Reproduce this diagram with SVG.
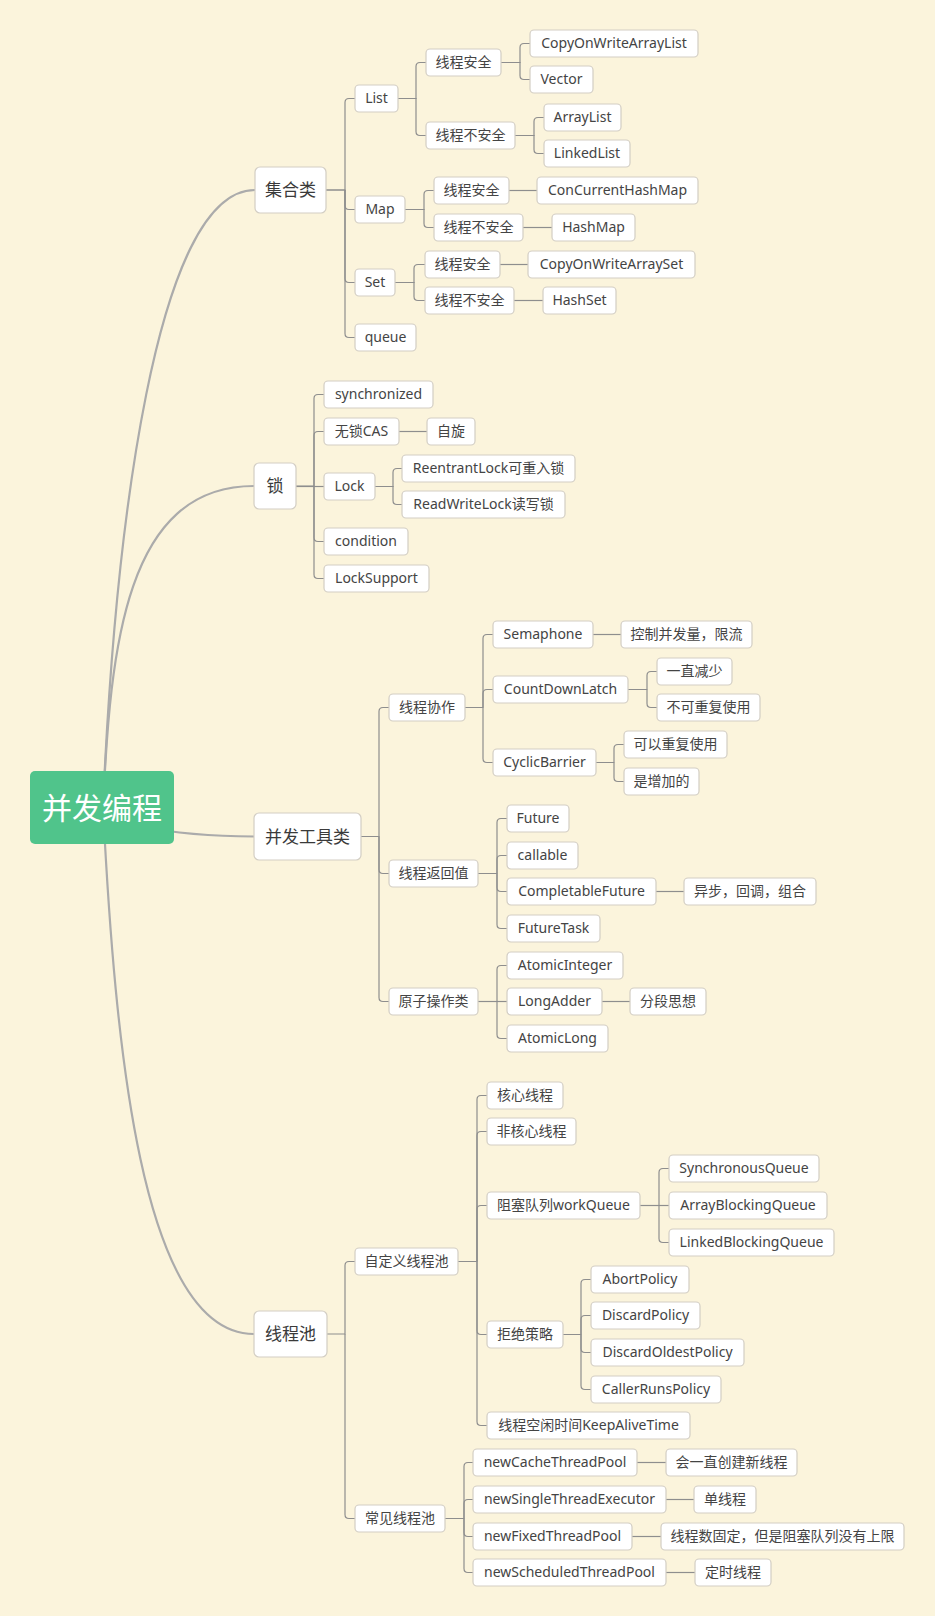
<svg xmlns="http://www.w3.org/2000/svg" width="935" height="1616" viewBox="0 0 935 1616">
<style>
.bg{fill:#fbf4dc}
.n rect{fill:#ffffff;stroke:#d3cec4;stroke-width:1.2}
.n text{font-family:"Noto Sans","Noto Sans CJK SC",sans-serif;font-size:14px;fill:#444444;text-anchor:middle;transform:translate(0px,-1px)}
.l1 text{font-size:17px;fill:#3a3a3a;transform:none}
.root rect{fill:#50c48b;stroke:none}
.root text{font-family:"Noto Sans CJK SC",sans-serif;font-size:30px;fill:#ffffff;text-anchor:middle}
.c path{fill:none;stroke:#8e8e8e;stroke-width:1.2}
.c path.m{stroke:#ababab;stroke-width:2.2}
</style>
<rect class="bg" x="0" y="0" width="935" height="1616"/>
<g id="connectors" class="c">
<path class="m" d="M103 807C115 530 155.5 190 255 190"/>
<path class="m" d="M103 807C110.5 646.5 125.5 486 254 486"/>
<path class="m" d="M140 826Q190 836.5 254 836.5"/>
<path class="m" d="M103 807C115 1043 140.5 1334 254 1334"/>
<path d="M326 190H345V102.5Q345 98.5 349 98.5H355"/>
<path d="M326 190H345V205.5Q345 209.5 349 209.5H355"/>
<path d="M345 190V278.5Q345 282.5 349 282.5H355"/>
<path d="M345 190V333.5Q345 337.5 349 337.5H355"/>
<path d="M398 98.5H416V66.5Q416 62.5 420 62.5H426"/>
<path d="M398 98.5H416V131.5Q416 135.5 420 135.5H426"/>
<path d="M501 62.5H520V47.5Q520 43.5 524 43.5H530"/>
<path d="M501 62.5H520V75.5Q520 79.5 524 79.5H530"/>
<path d="M515 135.5H534V121.5Q534 117.5 538 117.5H544"/>
<path d="M515 135.5H534V149.5Q534 153.5 538 153.5H544"/>
<path d="M405 209.5H424V194.5Q424 190.5 428 190.5H434"/>
<path d="M405 209.5H424V223.5Q424 227.5 428 227.5H434"/>
<path d="M509 190.5H537"/>
<path d="M523 227.5H552"/>
<path d="M395 282.5H414V268.5Q414 264.5 418 264.5H425"/>
<path d="M395 282.5H414V296.5Q414 300.5 418 300.5H425"/>
<path d="M500 264.5H528"/>
<path d="M514 300.5H543"/>
<path d="M296 486H314V398.5Q314 394.5 318 394.5H324"/>
<path d="M314 486V435.5Q314 431.5 318 431.5H324"/>
<path d="M296 486.5H324"/>
<path d="M314 486V537.5Q314 541.5 318 541.5H324"/>
<path d="M314 486V574.5Q314 578.5 318 578.5H324"/>
<path d="M399 431.5H427"/>
<path d="M375 486.5H393V472.5Q393 468.5 397 468.5H402"/>
<path d="M375 486.5H393V500.5Q393 504.5 397 504.5H402"/>
<path d="M361 836.5H379V711.5Q379 707.5 383 707.5H389"/>
<path d="M379 836.5V869.5Q379 873.5 383 873.5H389"/>
<path d="M379 836.5V997.5Q379 1001.5 383 1001.5H389"/>
<path d="M465 707.5H483V638.5Q483 634.5 487 634.5H493"/>
<path d="M483 707.5V693.5Q483 689.5 487 689.5H493"/>
<path d="M483 707.5V758.5Q483 762.5 487 762.5H493"/>
<path d="M593 634.5H621"/>
<path d="M628 689.5H647V675.5Q647 671.5 651 671.5H657"/>
<path d="M647 689.5V703.5Q647 707.5 651 707.5H657"/>
<path d="M596 762.5H614V748.5Q614 744.5 618 744.5H624"/>
<path d="M614 762.5V777.5Q614 781.5 618 781.5H624"/>
<path d="M478 873.5H497V822.5Q497 818.5 501 818.5H507"/>
<path d="M497 873.5V859.5Q497 855.5 501 855.5H507"/>
<path d="M497 873.5V887.5Q497 891.5 501 891.5H507"/>
<path d="M497 873.5V924.5Q497 928.5 501 928.5H507"/>
<path d="M656 891.5H684"/>
<path d="M478 1001.5H497V969.5Q497 965.5 501 965.5H507"/>
<path d="M478 1001.5H507"/>
<path d="M497 1001.5V1034.5Q497 1038.5 501 1038.5H507"/>
<path d="M602 1001.5H630"/>
<path d="M327 1334H345V1265.5Q345 1261.5 349 1261.5H355"/>
<path d="M345 1334V1514.5Q345 1518.5 349 1518.5H355"/>
<path d="M458 1261.5H477V1099.5Q477 1095.5 481 1095.5H487"/>
<path d="M477 1261.5V1135.5Q477 1131.5 481 1131.5H487"/>
<path d="M477 1261.5V1209.5Q477 1205.5 481 1205.5H487"/>
<path d="M477 1261.5V1330.5Q477 1334.5 481 1334.5H487"/>
<path d="M477 1261.5V1421.5Q477 1425.5 481 1425.5H487"/>
<path d="M640 1205.5H659V1172.5Q659 1168.5 663 1168.5H669"/>
<path d="M640 1205.5H669"/>
<path d="M659 1205.5V1238.5Q659 1242.5 663 1242.5H669"/>
<path d="M563 1334.5H581V1283.5Q581 1279.5 585 1279.5H591"/>
<path d="M581 1334.5V1319.5Q581 1315.5 585 1315.5H591"/>
<path d="M581 1334.5V1348.5Q581 1352.5 585 1352.5H591"/>
<path d="M581 1334.5V1385.5Q581 1389.5 585 1389.5H591"/>
<path d="M445 1518.5H464V1466.5Q464 1462.5 468 1462.5H473"/>
<path d="M464 1518.5V1503.5Q464 1499.5 468 1499.5H473"/>
<path d="M464 1518.5V1532.5Q464 1536.5 468 1536.5H473"/>
<path d="M464 1518.5V1568.5Q464 1572.5 468 1572.5H473"/>
<path d="M637 1462.5H666"/>
<path d="M666 1499.5H694"/>
<path d="M632 1536.5H661"/>
<path d="M666 1572.5H695"/>
</g>
<g id="root" class="root"><rect x="30" y="771" width="144" height="73" rx="5"/><text x="102" y="818.5">并发编程</text></g>
<g id="n-collections" class="n l1"><rect x="255" y="167" width="71" height="46" rx="5"/><text x="290.5" y="196">集合类</text></g>
<g id="n-lock" class="n l1"><rect x="254" y="463" width="42" height="46" rx="5"/><text x="275" y="492">锁</text></g>
<g id="n-tools" class="n l1"><rect x="254" y="813" width="107" height="47" rx="5"/><text x="307.5" y="842.5">并发工具类</text></g>
<g id="n-pool" class="n l1"><rect x="254" y="1311" width="73" height="46" rx="5"/><text x="290.5" y="1340">线程池</text></g>
<g id="n-list" class="n"><rect x="355" y="85" width="43" height="27" rx="4"/><text x="376.5" y="103.5">List</text></g>
<g id="n-list-safe" class="n"><rect x="426" y="49" width="75" height="27" rx="4"/><text x="463.5" y="67.5">线程安全</text></g>
<g id="n-cowal" class="n"><rect x="530" y="30" width="168" height="27" rx="4"/><text x="614" y="48.5">CopyOnWriteArrayList</text></g>
<g id="n-vector" class="n"><rect x="530" y="66" width="63" height="27" rx="4"/><text x="561.5" y="84.5">Vector</text></g>
<g id="n-list-unsafe" class="n"><rect x="426" y="122" width="89" height="27" rx="4"/><text x="470.5" y="140.5">线程不安全</text></g>
<g id="n-arraylist" class="n"><rect x="544" y="104" width="77" height="27" rx="4"/><text x="582.5" y="122.5">ArrayList</text></g>
<g id="n-linkedlist" class="n"><rect x="544" y="140" width="86" height="27" rx="4"/><text x="587" y="158.5">LinkedList</text></g>
<g id="n-map" class="n"><rect x="355" y="196" width="50" height="27" rx="4"/><text x="380" y="214.5">Map</text></g>
<g id="n-map-safe" class="n"><rect x="434" y="177" width="75" height="27" rx="4"/><text x="471.5" y="195.5">线程安全</text></g>
<g id="n-chm" class="n"><rect x="537" y="177" width="161" height="27" rx="4"/><text x="617.5" y="195.5">ConCurrentHashMap</text></g>
<g id="n-map-unsafe" class="n"><rect x="434" y="214" width="89" height="27" rx="4"/><text x="478.5" y="232.5">线程不安全</text></g>
<g id="n-hashmap" class="n"><rect x="552" y="214" width="83" height="27" rx="4"/><text x="593.5" y="232.5">HashMap</text></g>
<g id="n-set" class="n"><rect x="355" y="269" width="40" height="27" rx="4"/><text x="375" y="287.5">Set</text></g>
<g id="n-set-safe" class="n"><rect x="425" y="251" width="75" height="27" rx="4"/><text x="462.5" y="269.5">线程安全</text></g>
<g id="n-cowas" class="n"><rect x="528" y="251" width="167" height="27" rx="4"/><text x="611.5" y="269.5">CopyOnWriteArraySet</text></g>
<g id="n-set-unsafe" class="n"><rect x="425" y="287" width="89" height="27" rx="4"/><text x="469.5" y="305.5">线程不安全</text></g>
<g id="n-hashset" class="n"><rect x="543" y="287" width="73" height="27" rx="4"/><text x="579.5" y="305.5">HashSet</text></g>
<g id="n-queue" class="n"><rect x="355" y="324" width="61" height="27" rx="4"/><text x="385.5" y="342.5">queue</text></g>
<g id="n-sync" class="n"><rect x="324" y="381" width="109" height="27" rx="4"/><text x="378.5" y="399.5">synchronized</text></g>
<g id="n-cas" class="n"><rect x="324" y="418" width="75" height="27" rx="4"/><text x="361.5" y="436.5">无锁CAS</text></g>
<g id="n-spin" class="n"><rect x="427" y="418" width="48" height="27" rx="4"/><text x="451" y="436.5">自旋</text></g>
<g id="n-lockif" class="n"><rect x="324" y="473" width="51" height="27" rx="4"/><text x="349.5" y="491.5">Lock</text></g>
<g id="n-reentrant" class="n"><rect x="402" y="455" width="173" height="27" rx="4"/><text x="488.5" y="473.5">ReentrantLock可重入锁</text></g>
<g id="n-rwlock" class="n"><rect x="402" y="491" width="163" height="27" rx="4"/><text x="483.5" y="509.5">ReadWriteLock读写锁</text></g>
<g id="n-condition" class="n"><rect x="324" y="528" width="84" height="27" rx="4"/><text x="366" y="546.5">condition</text></g>
<g id="n-locksupport" class="n"><rect x="324" y="565" width="105" height="27" rx="4"/><text x="376.5" y="583.5">LockSupport</text></g>
<g id="n-coop" class="n"><rect x="389" y="694" width="76" height="27" rx="4"/><text x="427" y="712.5">线程协作</text></g>
<g id="n-semaphone" class="n"><rect x="493" y="621" width="100" height="27" rx="4"/><text x="543" y="639.5">Semaphone</text></g>
<g id="n-limit" class="n"><rect x="621" y="621" width="131" height="27" rx="4"/><text x="686.5" y="639.5">控制并发量，限流</text></g>
<g id="n-cdl" class="n"><rect x="493" y="676" width="135" height="27" rx="4"/><text x="560.5" y="694.5">CountDownLatch</text></g>
<g id="n-decrease" class="n"><rect x="657" y="658" width="75" height="27" rx="4"/><text x="694.5" y="676.5">一直减少</text></g>
<g id="n-noreuse" class="n"><rect x="657" y="694" width="103" height="27" rx="4"/><text x="708.5" y="712.5">不可重复使用</text></g>
<g id="n-cb" class="n"><rect x="493" y="749" width="103" height="27" rx="4"/><text x="544.5" y="767.5">CyclicBarrier</text></g>
<g id="n-reuse" class="n"><rect x="624" y="731" width="103" height="27" rx="4"/><text x="675.5" y="749.5">可以重复使用</text></g>
<g id="n-increase" class="n"><rect x="624" y="768" width="75" height="27" rx="4"/><text x="661.5" y="786.5">是增加的</text></g>
<g id="n-ret" class="n"><rect x="389" y="860" width="89" height="27" rx="4"/><text x="433.5" y="878.5">线程返回值</text></g>
<g id="n-future" class="n"><rect x="507" y="805" width="62" height="27" rx="4"/><text x="538" y="823.5">Future</text></g>
<g id="n-callable" class="n"><rect x="507" y="842" width="71" height="27" rx="4"/><text x="542.5" y="860.5">callable</text></g>
<g id="n-cf" class="n"><rect x="507" y="878" width="149" height="27" rx="4"/><text x="581.5" y="896.5">CompletableFuture</text></g>
<g id="n-async" class="n"><rect x="684" y="878" width="132" height="27" rx="4"/><text x="750" y="896.5">异步，回调，组合</text></g>
<g id="n-ft" class="n"><rect x="507" y="915" width="93" height="27" rx="4"/><text x="553.5" y="933.5">FutureTask</text></g>
<g id="n-atomic" class="n"><rect x="389" y="988" width="89" height="27" rx="4"/><text x="433.5" y="1006.5">原子操作类</text></g>
<g id="n-ai" class="n"><rect x="507" y="952" width="116" height="27" rx="4"/><text x="565" y="970.5">AtomicInteger</text></g>
<g id="n-la" class="n"><rect x="507" y="988" width="95" height="27" rx="4"/><text x="554.5" y="1006.5">LongAdder</text></g>
<g id="n-seg" class="n"><rect x="630" y="988" width="76" height="27" rx="4"/><text x="668" y="1006.5">分段思想</text></g>
<g id="n-al" class="n"><rect x="507" y="1025" width="101" height="27" rx="4"/><text x="557.5" y="1043.5">AtomicLong</text></g>
<g id="n-custom" class="n"><rect x="355" y="1248" width="103" height="27" rx="4"/><text x="406.5" y="1266.5">自定义线程池</text></g>
<g id="n-core" class="n"><rect x="487" y="1082" width="76" height="27" rx="4"/><text x="525" y="1100.5">核心线程</text></g>
<g id="n-noncore" class="n"><rect x="487" y="1118" width="89" height="27" rx="4"/><text x="531.5" y="1136.5">非核心线程</text></g>
<g id="n-wq" class="n"><rect x="487" y="1192" width="153" height="27" rx="4"/><text x="563.5" y="1210.5">阻塞队列workQueue</text></g>
<g id="n-sq" class="n"><rect x="669" y="1155" width="150" height="27" rx="4"/><text x="744" y="1173.5">SynchronousQueue</text></g>
<g id="n-abq" class="n"><rect x="669" y="1192" width="158" height="27" rx="4"/><text x="748" y="1210.5">ArrayBlockingQueue</text></g>
<g id="n-lbq" class="n"><rect x="669" y="1229" width="165" height="27" rx="4"/><text x="751.5" y="1247.5">LinkedBlockingQueue</text></g>
<g id="n-reject" class="n"><rect x="487" y="1321" width="76" height="27" rx="4"/><text x="525" y="1339.5">拒绝策略</text></g>
<g id="n-abort" class="n"><rect x="591" y="1266" width="98" height="27" rx="4"/><text x="640" y="1284.5">AbortPolicy</text></g>
<g id="n-discard" class="n"><rect x="591" y="1302" width="109" height="27" rx="4"/><text x="645.5" y="1320.5">DiscardPolicy</text></g>
<g id="n-discardold" class="n"><rect x="591" y="1339" width="153" height="27" rx="4"/><text x="667.5" y="1357.5">DiscardOldestPolicy</text></g>
<g id="n-callerruns" class="n"><rect x="591" y="1376" width="130" height="27" rx="4"/><text x="656" y="1394.5">CallerRunsPolicy</text></g>
<g id="n-keepalive" class="n"><rect x="487" y="1412" width="203" height="27" rx="4"/><text x="588.5" y="1430.5">线程空闲时间KeepAliveTime</text></g>
<g id="n-common" class="n"><rect x="355" y="1505" width="90" height="27" rx="4"/><text x="400" y="1523.5">常见线程池</text></g>
<g id="n-cached" class="n"><rect x="473" y="1449" width="164" height="27" rx="4"/><text x="555" y="1467.5">newCacheThreadPool</text></g>
<g id="n-cached-d" class="n"><rect x="666" y="1449" width="131" height="27" rx="4"/><text x="731.5" y="1467.5">会一直创建新线程</text></g>
<g id="n-single" class="n"><rect x="473" y="1486" width="193" height="27" rx="4"/><text x="569.5" y="1504.5">newSingleThreadExecutor</text></g>
<g id="n-single-d" class="n"><rect x="694" y="1486" width="62" height="27" rx="4"/><text x="725" y="1504.5">单线程</text></g>
<g id="n-fixed" class="n"><rect x="473" y="1523" width="159" height="27" rx="4"/><text x="552.5" y="1541.5">newFixedThreadPool</text></g>
<g id="n-fixed-d" class="n"><rect x="661" y="1523" width="243" height="27" rx="4"/><text x="782.5" y="1541.5">线程数固定，但是阻塞队列没有上限</text></g>
<g id="n-sched" class="n"><rect x="473" y="1559" width="193" height="27" rx="4"/><text x="569.5" y="1577.5">newScheduledThreadPool</text></g>
<g id="n-sched-d" class="n"><rect x="695" y="1559" width="76" height="27" rx="4"/><text x="733" y="1577.5">定时线程</text></g>
</svg>
